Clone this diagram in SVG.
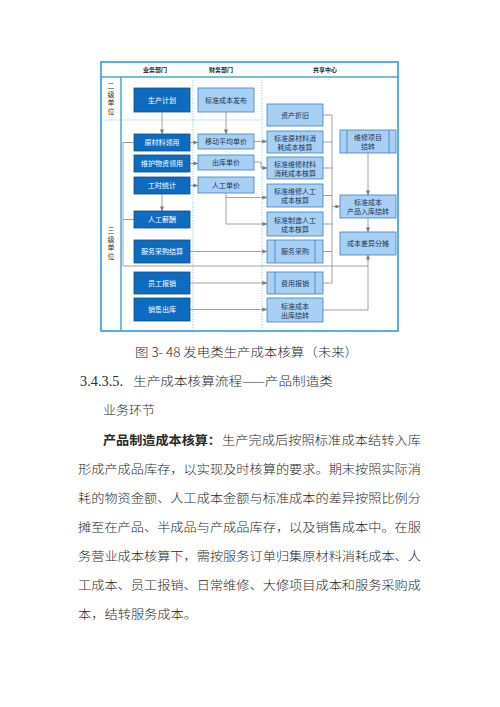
<svg xmlns="http://www.w3.org/2000/svg" width="500" height="707" viewBox="0 0 500 707">
<defs>
<marker id="arr" markerWidth="5" markerHeight="5" refX="4.6" refY="2.5" orient="auto" markerUnits="userSpaceOnUse"><path d="M0,0.4 L5,2.5 L0,4.6 z" fill="#7d7d7d"/></marker>
<style>
.dk{fill:#0d6cbf;stroke:#0a4f8f;stroke-width:0.8}
.lt{fill:#a8d0f5;stroke:#3d80c3;stroke-width:0.8}
.in{stroke:#3d80c3;stroke-width:0.8}
.td{font-family:"Noto Sans CJK SC","Noto Sans",sans-serif;font-size:7px;fill:#ffffff;text-anchor:middle}
.tl{font-family:"Noto Sans CJK SC","Noto Sans",sans-serif;font-size:7px;fill:#1d3550;text-anchor:middle}
.hd{font-family:"Noto Sans CJK SC","Noto Sans",sans-serif;font-size:6px;font-weight:bold;fill:#222;text-anchor:middle}
.vl{font-family:"Noto Sans CJK SC","Noto Sans",sans-serif;font-size:7px;fill:#333;text-anchor:middle}
.cn{fill:none;stroke:#8a8a8a;stroke-width:0.8}
.dot{fill:none;stroke:#7cc4ee;stroke-width:0.9;stroke-dasharray:1.2 1.4}
.bd{font-family:"Noto Sans CJK SC","Liberation Serif",sans-serif;font-size:12.5px;fill:#2a2a2a;font-weight:300}
</style>
</defs>
<rect width="500" height="707" fill="#ffffff"/>

<g id="frame">
<rect x="101" y="62" width="297" height="269" fill="none" stroke="#3fa9e6" stroke-width="1.8"/>
<line x1="101" y1="77" x2="398" y2="77" stroke="#3fa9e6" stroke-width="1.5"/>
<line x1="121" y1="77" x2="121" y2="331" stroke="#3fa9e6" stroke-width="1.5"/>
<line class="dot" x1="193" y1="77" x2="193" y2="331"/>
<line class="dot" x1="262" y1="77" x2="262" y2="331"/>
<line class="dot" x1="101" y1="120" x2="262" y2="120"/>
<text class="hd" x="155" y="72">业务部门</text>
<text class="hd" x="221" y="72">财务部门</text>
<text class="hd" x="325" y="72">共享中心</text>
<text class="vl" x="111" y="88">二</text>
<text class="vl" x="111" y="96.5">级</text>
<text class="vl" x="111" y="105">单</text>
<text class="vl" x="111" y="113.5">位</text>
<text class="vl" x="111" y="233">三</text>
<text class="vl" x="111" y="241.5">级</text>
<text class="vl" x="111" y="250">单</text>
<text class="vl" x="111" y="258.5">位</text>
</g>

<g id="connectors">
<path class="cn" d="M162,112 V134" marker-end="url(#arr)"/>
<path class="cn" d="M226,112 V134" marker-end="url(#arr)"/>
<path class="cn" d="M190,142.5 H198" marker-end="url(#arr)"/>
<path class="cn" d="M190,163.5 H198" marker-end="url(#arr)"/>
<path class="cn" d="M190,185.5 H198" marker-end="url(#arr)"/>
<path class="cn" d="M162,194 V211" marker-end="url(#arr)"/>
<path class="cn" d="M134,142.5 H123 V266 H368"/>
<path class="cn" d="M123,219.5 H134"/>
<path class="cn" d="M190,251.5 H267" marker-end="url(#arr)"/>
<path class="cn" d="M190,283 H267" marker-end="url(#arr)"/>
<path class="cn" d="M190,309.5 H267" marker-end="url(#arr)"/>
<path class="cn" d="M254,141.5 H267" marker-end="url(#arr)"/>
<path class="cn" d="M254,162 H261 V168 H267" marker-end="url(#arr)"/>
<path class="cn" d="M226,193 V224 H267" marker-end="url(#arr)"/>
<path class="cn" d="M226,197.5 H267" marker-end="url(#arr)"/>
<path class="cn" d="M323,115 H332 V283 H323"/>
<path class="cn" d="M323,142 H332 M323,168 H332 M323,195.5 H332 M323,224 H332 M323,251.5 H332"/>
<path class="cn" d="M332,206.5 H340" marker-end="url(#arr)"/>
<path class="cn" d="M368,153 V195" marker-end="url(#arr)"/>
<path class="cn" d="M368,218 V232" marker-end="url(#arr)"/>
<path class="cn" d="M323,310 H368 V255" marker-end="url(#arr)"/>
</g>

<g id="n-scjh"><rect class="dk" x="134" y="88" width="56" height="24"/><text class="td" x="162" y="102.5">生产计划</text></g>
<g id="n-ycll"><rect class="dk" x="134" y="134" width="56" height="17"/><text class="td" x="162" y="145">原材料领用</text></g>
<g id="n-whwz"><rect class="dk" x="134" y="155" width="56" height="17"/><text class="td" x="162" y="166">维护物资领用</text></g>
<g id="n-gstj"><rect class="dk" x="134" y="177" width="56" height="17"/><text class="td" x="162" y="188">工时统计</text></g>
<g id="n-rgxc"><rect class="dk" x="134" y="211" width="56" height="17"/><text class="td" x="162" y="222">人工薪酬</text></g>
<g id="n-fwcgjs"><rect class="dk" x="134" y="240" width="56" height="23"/><text class="td" x="162" y="254">服务采购结算</text></g>
<g id="n-ygbx"><rect class="dk" x="134" y="272" width="56" height="22"/><text class="td" x="162" y="285.5">员工报销</text></g>
<g id="n-xsck"><rect class="dk" x="134" y="298" width="56" height="23"/><text class="td" x="162" y="312">销售出库</text></g>

<g id="n-bzcbfb"><rect class="lt" x="198" y="88" width="56" height="24"/><text class="tl" x="226" y="102.5">标准成本发布</text></g>
<g id="n-ydpj"><rect class="lt" x="198" y="134" width="56" height="15"/><text class="tl" x="226" y="144">移动平均单价</text></g>
<g id="n-ckdj"><rect class="lt" x="198" y="155" width="56" height="15"/><text class="tl" x="226" y="165">出库单价</text></g>
<g id="n-rgdj"><rect class="lt" x="198" y="177" width="56" height="16"/><text class="tl" x="226" y="187.5">人工单价</text></g>

<g id="n-zczj"><rect class="lt" x="267" y="104" width="56" height="22"/><text class="tl" x="295" y="117.5">资产折旧</text></g>
<g id="n-bzycl"><rect class="lt" x="267" y="131" width="56" height="22"/><text class="tl" x="295" y="140.5">标准原材料消</text><text class="tl" x="295" y="149.5">耗成本核算</text></g>
<g id="n-bzwxcl"><rect class="lt" x="267" y="157" width="56" height="22"/><text class="tl" x="295" y="166.5">标准维修材料</text><text class="tl" x="295" y="175.5">消耗成本核算</text></g>
<g id="n-bzwxrg"><rect class="lt" x="267" y="184" width="56" height="23"/><text class="tl" x="295" y="194">标准维修人工</text><text class="tl" x="295" y="203">成本核算</text></g>
<g id="n-bzzzrg"><rect class="lt" x="267" y="212" width="56" height="24"/><text class="tl" x="295" y="222.5">标准制造人工</text><text class="tl" x="295" y="231.5">成本核算</text></g>
<g id="n-fwcg"><rect class="lt" x="267" y="240" width="56" height="23"/><line class="in" x1="275" y1="240" x2="275" y2="263"/><line class="in" x1="315" y1="240" x2="315" y2="263"/><text class="tl" x="295" y="254">服务采购</text></g>
<g id="n-fybx"><rect class="lt" x="267" y="272" width="56" height="22"/><line class="in" x1="275" y1="272" x2="275" y2="294"/><line class="in" x1="315" y1="272" x2="315" y2="294"/><text class="tl" x="295" y="285.5">费用报销</text></g>
<g id="n-bzcbck"><rect class="lt" x="267" y="298" width="56" height="24"/><text class="tl" x="295" y="308.5">标准成本</text><text class="tl" x="295" y="317.5">出库结转</text></g>

<g id="n-wxxm"><rect class="lt" x="340" y="130" width="56" height="23"/><line class="in" x1="347" y1="130" x2="347" y2="153"/><line class="in" x1="389" y1="130" x2="389" y2="153"/><text class="tl" x="368" y="140">维修项目</text><text class="tl" x="368" y="149">结转</text></g>
<g id="n-bzcbrk"><rect class="lt" x="340" y="195" width="56" height="23"/><text class="tl" x="368" y="205">标准成本</text><text class="tl" x="368" y="214">产品入库结转</text></g>
<g id="n-cbcy"><rect class="lt" x="340" y="232" width="56" height="23"/><text class="tl" x="368" y="246">成本差异分摊</text></g>

<g id="body">
<text class="bd" x="135" y="357" textLength="223" lengthAdjust="spacingAndGlyphs">图 3- 48 发电类生产成本核算（未来）</text>
<text class="bd" x="80" y="386" style="font-family:'Liberation Serif',serif;font-size:14px" textLength="43" lengthAdjust="spacingAndGlyphs">3.4.3.5.</text>
<text class="bd" x="133" y="386" textLength="200" lengthAdjust="spacingAndGlyphs">生产成本核算流程——产品制造类</text>
<text class="bd" x="103" y="415" textLength="52" lengthAdjust="spacingAndGlyphs">业务环节</text>
<text class="bd" x="103" y="445" style="font-weight:bold" textLength="118" lengthAdjust="spacingAndGlyphs">产品制造成本核算：</text>
<text class="bd" x="222" y="445" textLength="199" lengthAdjust="spacingAndGlyphs">生产完成后按照标准成本结转入库</text>
<text class="bd" x="78" y="474" textLength="343" lengthAdjust="spacingAndGlyphs">形成产成品库存，以实现及时核算的要求。期末按照实际消</text>
<text class="bd" x="78" y="503" textLength="343" lengthAdjust="spacingAndGlyphs">耗的物资金额、人工成本金额与标准成本的差异按照比例分</text>
<text class="bd" x="78" y="532" textLength="343" lengthAdjust="spacingAndGlyphs">摊至在产品、半成品与产成品库存，以及销售成本中。在服</text>
<text class="bd" x="78" y="561" textLength="343" lengthAdjust="spacingAndGlyphs">务营业成本核算下，需按服务订单归集原材料消耗成本、人</text>
<text class="bd" x="78" y="590" textLength="343" lengthAdjust="spacingAndGlyphs">工成本、员工报销、日常维修、大修项目成本和服务采购成</text>
<text class="bd" x="78" y="619" textLength="119" lengthAdjust="spacingAndGlyphs">本，结转服务成本。</text>
</g>
</svg>
